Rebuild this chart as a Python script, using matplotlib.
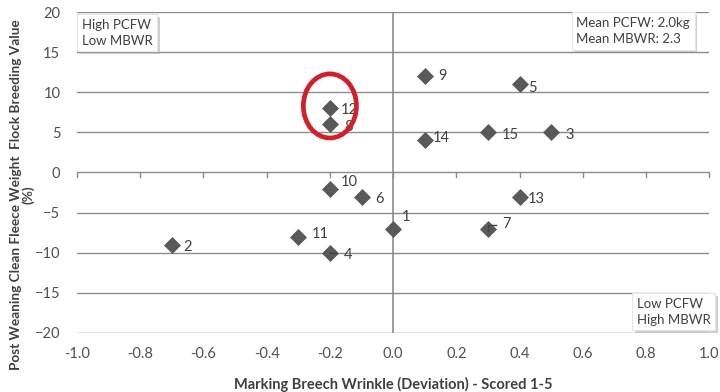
import matplotlib
matplotlib.use("Agg")
import matplotlib.pyplot as plt
from matplotlib.patches import Ellipse
import matplotlib.patheffects as pe

plt.rcParams['font.family'] = ['Lato', 'DejaVu Sans']

labels = ['1', '2', '3', '4', '5', '6', '7', '8', '9', '10', '11', '12', '13', '14', '15']
mbwr = [0.0, -0.7, 0.5, -0.2, 0.4, -0.1, 0.3, -0.2, 0.1, -0.2, -0.3, -0.2, 0.4, 0.1, 0.3]
pcfw = [-7, -9, 5, -10, 11, -3, -7, 6, 12, -2, -8, 8, -3, 4, 5]
xticks = [-1.0, -0.8, -0.6, -0.4, -0.2, 0.0, 0.2, 0.4, 0.6, 0.8, 1.0]
yticks = [-20, -15, -10, -5, 0, 5, 10, 15, 20]

# label offsets in points
offsets = {'1': (6, 8), '2': (8, -2), '3': (10, -2), '4': (10, -2), '5': (6, -3),
           '6': (10, -2), '7': (10, 3), '8': (10, -2), '9': (10, 0), '10': (8, 5),
           '11': (10, 2), '12': (8, -1), '13': (6, -2), '14': (6, 2), '15': (10, -2)}

fig = plt.figure(figsize=(7.2, 3.92), dpi=100)
ax = fig.add_axes([0.107, 0.151, 0.878, 0.818])
ax.set_xlim(-1.0, 1.0)
ax.set_ylim(-20, 20)

gc = '#8c8c8c'
for y in yticks:
    ax.axhline(y, color=gc, lw=1, zorder=1)
ax.axvline(0, color=gc, lw=1.2, zorder=1)
for s in ax.spines.values():
    s.set_visible(False)
# tick marks on the y=0 axis line
for x in xticks:
    ax.plot([x, x], [0, -0.6], color=gc, lw=1, zorder=1, clip_on=False)

ax.scatter(mbwr, pcfw, marker='D', s=75, color='#595959', zorder=3, linewidths=0)
for lab, x, y in zip(labels, mbwr, pcfw):
    ax.annotate(lab, (x, y), xytext=offsets[lab], textcoords='offset points',
                fontsize=10.5, color='#404040', va='center', ha='left', zorder=4)
# leader lines for 4 and 7
ax.plot([-0.2, -0.18], [-10, -10], color='#404040', lw=1, zorder=4)
ax.plot([0.3, 0.3, 0.325], [-7.3, -6.5, -6.5], color='#404040', lw=1, zorder=4)

ax.set_xticks(xticks)
ax.set_xticklabels([f'{v:.1f}' for v in xticks])
ax.set_yticks(yticks)
ax.tick_params(length=0, labelsize=10.5, colors='#505050')
ax.tick_params(axis='x', pad=10)
ax.tick_params(axis='y', pad=12)

ell = Ellipse((-0.2, 8.3), 0.168, 8.0, fill=False, edgecolor='#d0202a', lw=3.4, zorder=5)
ax.add_patch(ell)

ax.set_xlabel('Marking Breech Wrinkle (Deviation) - Scored 1-5', fontsize=10.5,
              fontweight='bold', color='#404040', labelpad=12)
ax.set_ylabel('Post Weaning Clean Fleece Weight  Flock Breeding Value\n(%)', fontsize=9.8,
              fontweight='bold', color='#404040', linespacing=1.0)
ax.yaxis.set_label_coords(-0.067, 0.43)

bbox = dict(boxstyle='square,pad=0.35', facecolor='white', edgecolor='#e6e6e6', lw=0.8,
            path_effects=[pe.withSimplePatchShadow(offset=(2, -2), shadow_rgbFace='#b0b0b0', alpha=0.6)])
ax.text(-0.985, 19.2, 'High PCFW\nLow MBWR', fontsize=9.5, color='#404040', va='top', ha='left',
        bbox=bbox, zorder=6, linespacing=1.4)
ax.text(0.58, 19.4, 'Mean PCFW: 2.0kg\nMean MBWR: 2.3', fontsize=9.5, color='#404040', va='top', ha='left',
        bbox=bbox, zorder=6, linespacing=1.4)
ax.text(0.77, -15.6, 'Low PCFW\nHigh MBWR', fontsize=9.5, color='#404040', va='top', ha='left',
        bbox=bbox, zorder=6, linespacing=1.4)

fig.savefig('out.png', dpi=100)
